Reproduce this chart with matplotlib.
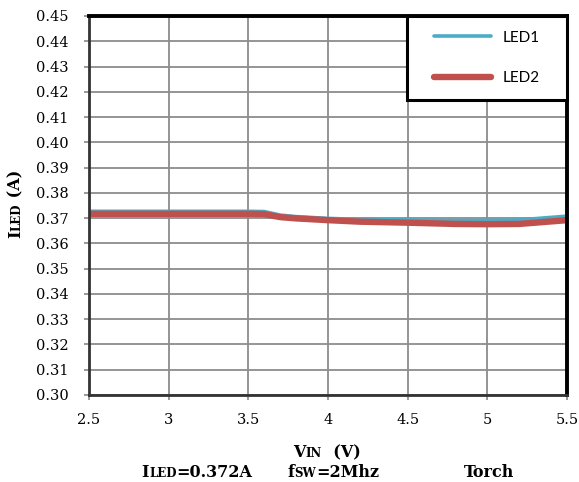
import matplotlib
matplotlib.use("Agg")
import matplotlib.pyplot as plt
from matplotlib.patches import Rectangle
import numpy as np

# Данные
vin = [2.5, 3.0, 3.5, 3.6, 3.7, 3.8, 4.0, 4.2, 4.5, 4.8, 5.0, 5.2, 5.5]
led1 = [0.3727, 0.3727, 0.3727, 0.3726, 0.3712, 0.3706, 0.3699, 0.3695,
        0.3693, 0.3691, 0.3691, 0.3693, 0.3708]
led2 = [0.3717, 0.3717, 0.3717, 0.3716, 0.3704, 0.3699, 0.3692, 0.3686,
        0.3682, 0.3677, 0.3676, 0.3677, 0.3692]

x_ticks = [2.5, 3, 3.5, 4, 4.5, 5, 5.5]
x_tick_labels = ["2.5", "3", "3.5", "4", "4.5", "5", "5.5"]
y_ticks = np.round(np.arange(0.30, 0.4501, 0.01), 2)

W, H = 579, 482
serif = "DejaVu Serif"
big = 11.5
small = 8.5

fig = plt.figure(figsize=(W / 100, H / 100), dpi=100)
ax = fig.add_axes([89 / W, 1 - 395 / H, 478 / W, 379 / H])

ax.plot(vin, led1, color="#4BACC6", lw=2.6, label="LED1", solid_capstyle="round")
ax.plot(vin, led2, color="#C0504D", lw=4.6, label="LED2", solid_capstyle="round")

ax.set_xlim(2.5, 5.5)
ax.set_ylim(0.30, 0.45)
ax.set_xticks(x_ticks)
ax.set_xticklabels(x_tick_labels, fontfamily=serif, fontsize=10.5)
ax.set_yticks(y_ticks)
ax.set_yticklabels(["%.2f" % v for v in y_ticks], fontfamily=serif, fontsize=10.5)
ax.tick_params(direction="out", length=3.6, width=1.2, color="#888888")
ax.tick_params(axis="y", pad=11)
ax.tick_params(axis="x", pad=9)
ax.grid(True, color="#8c8c8c", lw=1.3)
ax.set_axisbelow(True)

for s in ["top", "right"]:
    ax.spines[s].set_linewidth(2.8)
    ax.spines[s].set_color("black")
for s in ["left", "bottom"]:
    ax.spines[s].set_linewidth(2.0)
    ax.spines[s].set_color("#333333")

# рамка легенды
lx0 = (407 - 89) / 478
ly0 = (395 - 100) / 379
ax.add_patch(Rectangle((lx0, ly0), 1 - lx0, 1 - ly0, transform=ax.transAxes,
                       facecolor="white", edgecolor="black", lw=2.2,
                       zorder=5, clip_on=False))
leg = ax.legend(loc="center", bbox_to_anchor=((lx0 + 1) / 2, (ly0 + 1) / 2),
                frameon=False, labelspacing=1.75, handlelength=3.7,
                handletextpad=0.8, borderpad=0,
                prop={"family": "Lato", "size": 11})
leg.set_zorder(6)

# Подписи из кусков (малые прописные буквы)
renderer = fig.canvas.get_renderer()


def pieces_h(cx, base_y, parts):
    texts = []
    for s, size in parts:
        t = fig.text(0, 1 - base_y / H, s, ha="left", va="baseline",
                     fontfamily=serif, fontweight="bold", fontsize=size)
        texts.append(t)
    widths = [t.get_window_extent(renderer).width for t in texts]
    x = cx - sum(widths) / 2
    for t, w in zip(texts, widths):
        t.set_x(x / W)
        x += w


def pieces_v(base_x, cy, parts):
    texts = []
    for s, size in parts:
        t = fig.text(base_x / W, 0, s, ha="left", va="baseline",
                     rotation=90, rotation_mode="anchor",
                     fontfamily=serif, fontweight="bold", fontsize=size)
        texts.append(t)
    lens = [t.get_window_extent(renderer).height for t in texts]
    y = cy + sum(lens) / 2
    for t, h in zip(texts, lens):
        t.set_y(1 - y / H)
        y -= h


pieces_v(20, 204, [("I", big), ("LED", small), (" (A)", big)])
pieces_h(327, 457, [("V", big), ("IN", small), ("  (V)", big)])
pieces_h(197, 477, [("I", big), ("LED", small), ("=0.372A", big)])
pieces_h(333, 477, [("f", big), ("SW", small), ("=2Mhz", big)])
pieces_h(489, 477, [("Torch", big)])

fig.savefig("out.png", dpi=100)
